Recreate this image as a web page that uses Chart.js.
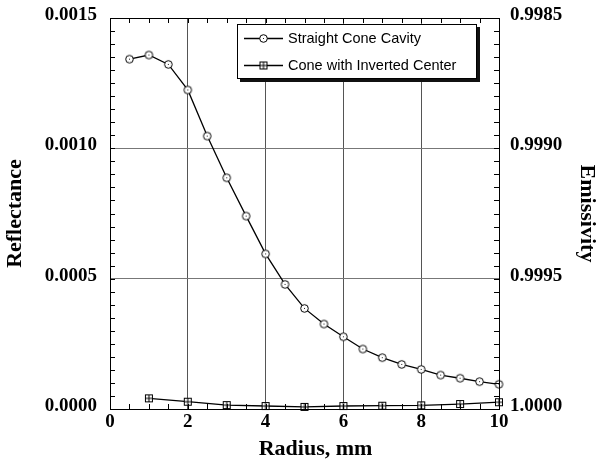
<!DOCTYPE html>
<html lang="en">
<head>
<meta charset="UTF-8">
<title>Reflectance vs Radius</title>
<script src="https://cdn.jsdelivr.net/npm/chart.js@4"></script>
<style>
  body { margin: 0; background: #fff; }
</style>
</head>
<body>
<canvas id="chart" width="598" height="463"></canvas>
<script>
// values
const radiusStraight = [0.5, 1, 1.5, 2, 2.5, 3, 3.5, 4, 4.5, 5, 5.5, 6, 6.5, 7, 7.5, 8, 8.5, 9, 9.5, 10];
const straightCone = [0.001342, 0.001358, 0.001322, 0.001224, 0.001047, 0.000887, 0.000740, 0.000595, 0.000478, 0.000386,
                      0.000326, 0.000277, 0.000230, 0.000197, 0.000171, 0.000152, 0.000130, 0.000118, 0.000105, 0.0000948];
const radiusInverted = [1, 2, 3, 4, 5, 6, 7, 8, 9, 10];
const invertedCenter = [0.000041, 0.000028, 0.000015, 0.0000115, 0.000008, 0.0000115, 0.0000127, 0.000014, 0.000019, 0.000026];

const seriesLabels = ['Straight Cone Cavity', 'Cone with Inverted Center'];
const radiusTicks = [0, 2, 4, 6, 8, 10];
const reflectanceTicks = [0, 0.0005, 0.0010, 0.0015];
const emissivityTicks = [0.9985, 0.9990, 0.9995, 1.0000];

// marker images (circle with dot, square with cross)
function circleMarker() {
  const c = document.createElement('canvas');
  c.width = 11; c.height = 11;
  const g = c.getContext('2d');
  g.beginPath();
  g.arc(5.5, 5.5, 3.8, 0, Math.PI * 2);
  g.fillStyle = '#fff';
  g.fill();
  g.lineWidth = 1;
  g.strokeStyle = '#000';
  g.stroke();
  g.fillStyle = '#222';
  g.fillRect(5, 5, 1, 1);
  return c;
}

function squareMarker() {
  const c = document.createElement('canvas');
  c.width = 10; c.height = 10;
  const g = c.getContext('2d');
  g.fillStyle = '#fff';
  g.fillRect(1.5, 1.5, 7, 7);
  g.lineWidth = 1;
  g.strokeStyle = '#000';
  g.strokeRect(1.5, 1.5, 7, 7);
  g.beginPath();
  g.moveTo(5, 1.5); g.lineTo(5, 8.5);
  g.moveTo(1.5, 5); g.lineTo(8.5, 5);
  g.stroke();
  return c;
}

const markers = [circleMarker(), squareMarker()];

// frame plus small inward ticks on all four sides
const frameTicks = {
  id: 'frameTicks',
  afterDraw(chart) {
    const {ctx, chartArea: a, scales: {x, y}} = chart;
    ctx.save();
    ctx.strokeStyle = '#000';
    ctx.lineWidth = 1;
    ctx.beginPath();
    for (let i = 0; i <= 20; i++) {
      const px = Math.round(x.getPixelForValue(i * 0.5)) + 0.5;
      ctx.moveTo(px, a.bottom); ctx.lineTo(px, a.bottom - 5);
      ctx.moveTo(px, a.top); ctx.lineTo(px, a.top + 5);
    }
    for (let i = 0; i <= 30; i++) {
      const py = Math.round(y.getPixelForValue(i * 0.00005)) + 0.5;
      ctx.moveTo(a.left, py); ctx.lineTo(a.left + 5, py);
      ctx.moveTo(a.right, py); ctx.lineTo(a.right - 5, py);
    }
    ctx.stroke();
    ctx.strokeRect(a.left + 0.5, a.top + 0.5, a.right - a.left, a.bottom - a.top);
    ctx.restore();
  }
};

const boxLegend = {
  id: 'boxLegend',
  afterDraw(chart) {
    const ctx = chart.ctx;
    const bx = 237, by = 24, bw = 240, bh = 55;
    ctx.save();
    ctx.fillStyle = '#111';
    ctx.fillRect(bx + 3, by + 3, bw, bh);
    ctx.fillStyle = '#fff';
    ctx.fillRect(bx, by, bw, bh);
    ctx.strokeStyle = '#000';
    ctx.lineWidth = 1;
    ctx.strokeRect(bx + 0.5, by + 0.5, bw - 1, bh - 1);
    ctx.font = '14.5px "Liberation Sans", Arial, sans-serif';
    ctx.textBaseline = 'middle';
    chart.data.datasets.forEach((ds, i) => {
      const cy = by + 14 + i * 27;
      ctx.beginPath();
      ctx.lineWidth = 1.3;
      ctx.moveTo(bx + 7, cy + 0.5);
      ctx.lineTo(bx + 46, cy + 0.5);
      ctx.stroke();
      const m = ds.pointStyle;
      ctx.drawImage(m, bx + 26.5 - m.width / 2, cy + 0.5 - m.height / 2);
      ctx.fillStyle = '#000';
      ctx.fillText(ds.label, bx + 51, cy + 1);
    });
    ctx.restore();
  }
};

const tickFont = {family: '"Liberation Serif", "Times New Roman", serif', size: 19, weight: 'bold'};
const titleFont = {family: '"Liberation Serif", "Times New Roman", serif', size: 22, weight: 'bold', lineHeight: 1};

// fixed axis sizes so the plot frame lands where the reference has it
function fixY(width) {
  return s => { s.width = width; s.paddingTop = 0; s.paddingBottom = 0; };
}

new Chart(document.getElementById('chart'), {
  type: 'line',
  data: {
    datasets: [{
      label: seriesLabels[0],
      data: radiusStraight.map((r, i) => ({x: r, y: straightCone[i]})),
      borderColor: '#000',
      borderWidth: 1.3,
      pointStyle: markers[0],
      tension: 0,
      clip: false,
      yAxisID: 'y'
    }, {
      label: seriesLabels[1],
      data: radiusInverted.map((r, i) => ({x: r, y: invertedCenter[i]})),
      borderColor: '#000',
      borderWidth: 1.3,
      pointStyle: markers[1],
      tension: 0,
      clip: false,
      yAxisID: 'y'
    }]
  },
  options: {
    responsive: false,
    animation: false,
    devicePixelRatio: 1,
    layout: {padding: {top: 18, left: 0, right: 0, bottom: 0}},
    plugins: {
      legend: {display: false},
      tooltip: {enabled: false}
    },
    scales: {
      x: {
        type: 'linear',
        min: 0,
        max: 10,
        afterBuildTicks: s => { s.ticks = radiusTicks.map(v => ({value: v})); },
        afterFit: s => { s.height = 54; s.paddingLeft = 0; s.paddingRight = 0; },
        ticks: {color: '#000', font: tickFont, padding: 2, maxRotation: 0},
        grid: {color: '#555', drawTicks: false},
        border: {display: false},
        title: {display: true, text: '    Radius, mm', color: '#000', font: titleFont, padding: {top: 0, bottom: 3}}
      },
      y: {
        position: 'left',
        min: 0,
        max: 0.0015,
        afterBuildTicks: s => { s.ticks = reflectanceTicks.map(v => ({value: v})); },
        afterFit: fixY(110),
        ticks: {color: '#000', font: tickFont, padding: 13, labelOffset: -3, callback: v => v.toFixed(4)},
        grid: {color: '#777', drawTicks: false},
        border: {display: false},
        title: {display: true, text: 'Reflectance', color: '#000', font: titleFont, padding: {top: 4, bottom: 0}}
      },
      y2: {
        position: 'right',
        min: 0.9985,
        max: 1.0,
        reverse: true,
        afterBuildTicks: s => { s.ticks = emissivityTicks.map(v => ({value: v})); },
        afterFit: fixY(99),
        ticks: {color: '#000', font: tickFont, padding: 11, labelOffset: -3, callback: v => v.toFixed(4)},
        grid: {display: false, drawTicks: false},
        border: {display: false},
        title: {display: true, text: 'Emissivity', color: '#000', font: titleFont, padding: {top: 0, bottom: 0}}
      }
    }
  },
  plugins: [frameTicks, boxLegend]
});
</script>
</body>
</html>
